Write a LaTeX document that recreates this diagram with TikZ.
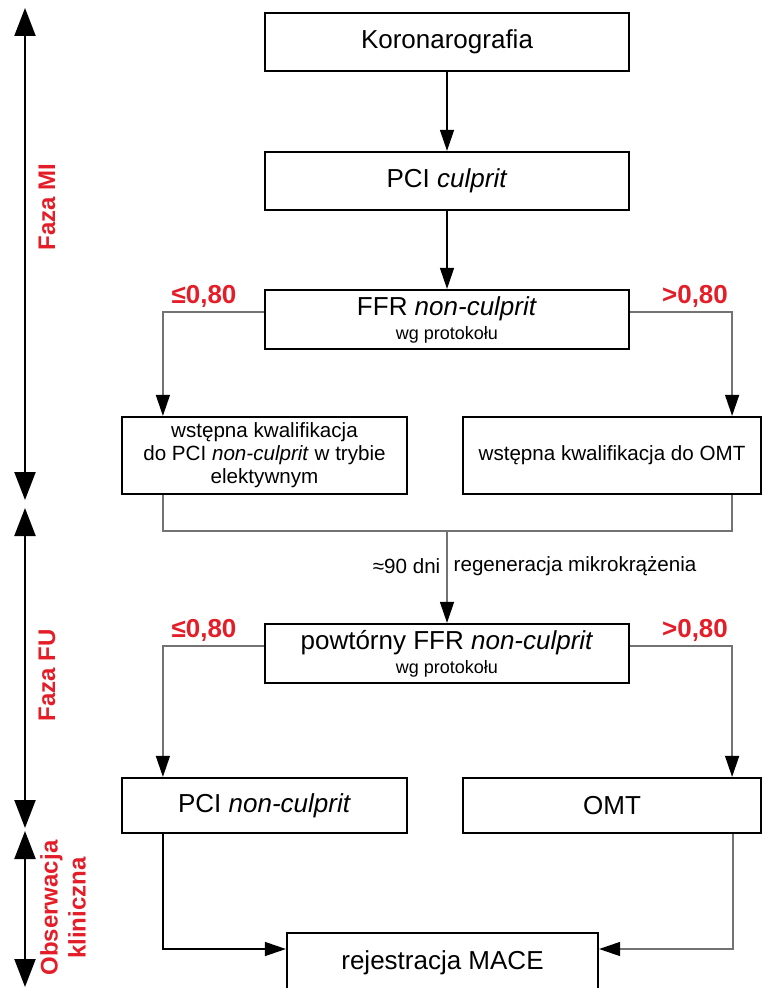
\documentclass[tikz,border=0pt]{standalone}
\usepackage{fontspec}
\setmainfont{Liberation Sans}
\usetikzlibrary{arrows.meta}
\definecolor{fazared}{RGB}{228,30,40}

\begin{document}
\begin{tikzpicture}[x=0.5pt, y=-0.5pt,
    box/.style={draw, line width=1.1pt, minimum width=182pt, minimum height=29pt,
        inner sep=2pt, align=center, font=\fontsize{13}{14}\selectfont},
    subbox/.style={draw, line width=1.1pt, minimum height=38.5pt, inner sep=2pt,
        align=center, font=\fontsize{10.3}{11.5}\selectfont},
    endbox/.style={draw, line width=1.1pt, minimum height=27.5pt, inner sep=2pt,
        align=center, font=\fontsize{13}{14}\selectfont},
    arr/.style={-{Triangle[length=10.5pt, width=7pt, color=black]}},
    link/.style={line width=0.7pt, black},
    branch/.style={line width=0.7pt, black!55},
    cut/.style={text=fazared, font=\bfseries\fontsize{13}{14}\selectfont},
    phase/.style={line width=1.1pt, {Triangle[length=14pt, width=10.5pt]}-{Triangle[length=14pt, width=10.5pt]}},
    phaselabel/.style={text=fazared, rotate=90, align=center, font=\bfseries\fontsize{12}{14}\selectfont}
]
\useasboundingbox (0,0) rectangle (763,988);

\node[box] (kor) at (447,42) {Koronarografia};
\node[box] (pci) at (447,181) {PCI \textit{culprit}};
\node[box, minimum height=29.5pt] (ffr) at (447,319.5) {FFR \textit{non-culprit}\\[-2pt]{\fontsize{9}{10}\selectfont wg protokołu}};
\node[subbox, minimum width=142.5pt] (q1) at (264.5,455.5) {wstępna kwalifikacja\\do PCI \textit{non-culprit} w trybie\\elektywnym};
\node[subbox, minimum width=149pt] (q2) at (612,455.5) {wstępna kwalifikacja do OMT};
\node[box, minimum height=29.5pt] (ffr2) at (447,653.5) {powtórny FFR \textit{non-culprit}\\[-2pt]{\fontsize{9}{10}\selectfont wg protokołu}};
\node[endbox, minimum width=142.5pt] (r1) at (264.5,805.5) {PCI \textit{non-culprit}};
\node[endbox, minimum width=149pt] (r2) at (612,805.5) {OMT};
\node[endbox, minimum width=155.5pt, minimum height=30pt] (mace) at (442.5,963) {rejestracja MACE};

\node[cut] (le1) at (204,296) {≤0,80};
\node[cut] (gt1) at (695,296) {>0,80};
\node[cut] (le2) at (204,630) {≤0,80};
\node[cut] (gt2) at (695,630) {>0,80};

\draw[link, arr] (kor) -- (pci);
\draw[link, arr] (pci) -- (ffr);
\draw[branch, arr] ([yshift=3.75pt]ffr.west) -| ([xshift=21pt]q1.north west);
\draw[branch, arr] ([yshift=3.75pt]ffr.east) -| ([xshift=-15pt]q2.north east);

\coordinate (join) at (447,531);
\draw[branch] ([xshift=21pt]q1.south west) |- (join) -| ([xshift=-15pt]q2.south east);
\draw[branch, arr] (join) -- node[pos=0.38, left, inner sep=3pt, text=black, font=\fontsize{10.3}{12}\selectfont] (dni) {≈90 dni}
    node[pos=0.38, right, inner sep=3pt, text=black, font=\fontsize{10.3}{12}\selectfont] (regen) {regeneracja mikrokrążenia} (ffr2);

\draw[branch, arr] ([yshift=3.75pt]ffr2.west) -| ([xshift=21pt]r1.north west);
\draw[branch, arr] ([yshift=3.75pt]ffr2.east) -| ([xshift=-15pt]r2.north east);
\draw[link, arr] ([xshift=21pt]r1.south west) |- ([yshift=7pt]mace.west);
\draw[branch, arr] ([xshift=-14.5pt]r2.south east) |- ([yshift=7pt]mace.east);

\coordinate (mitop) at (25,8);
\coordinate (mibot) at (25,500);
\coordinate (futop) at (25,508);
\coordinate (fubot) at (25,828);
\coordinate (obstop) at (25,831);
\coordinate (obsbot) at (25,987);
\draw[phase] (mitop) -- (mibot);
\draw[phase] (futop) -- (fubot);
\draw[phase] (obstop) -- (obsbot);
\node[phaselabel] (lblmi) at (47,207) {Faza MI};
\node[phaselabel] (lblfu) at (47,675) {Faza FU};
\node[phaselabel] (lblobs) at (63,908) {Obserwacja\\kliniczna};
\end{tikzpicture}
\end{document}
